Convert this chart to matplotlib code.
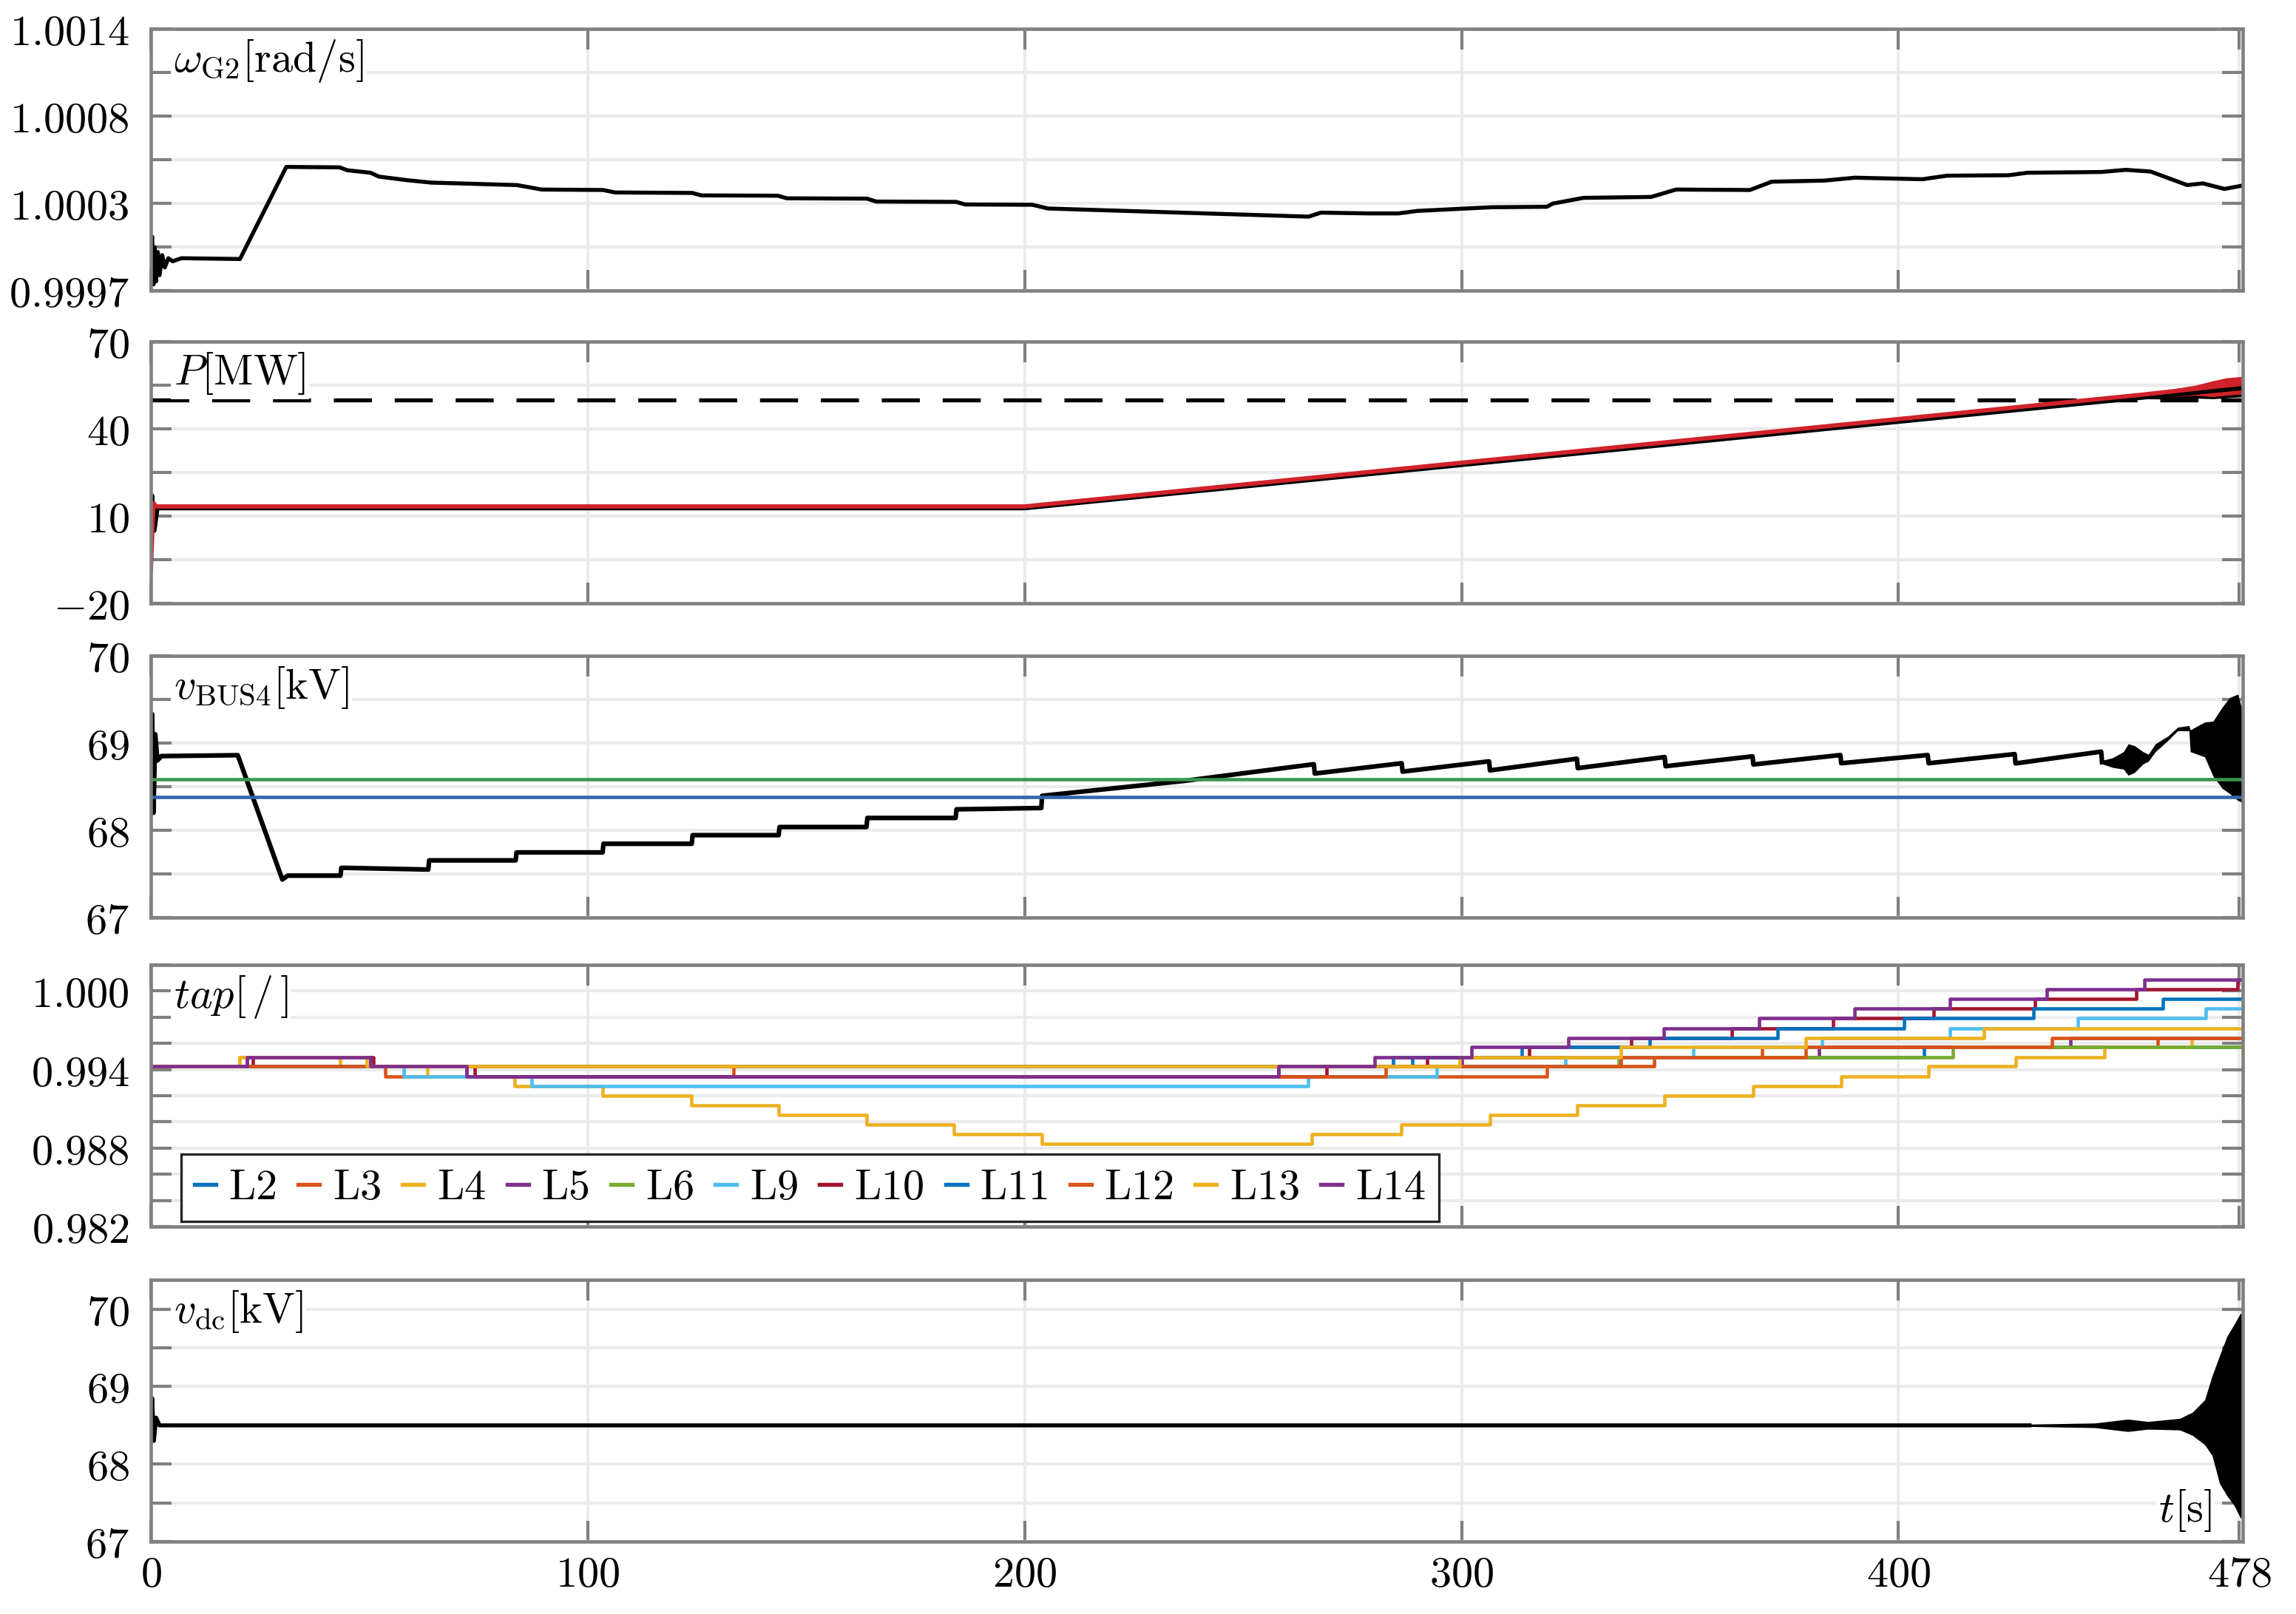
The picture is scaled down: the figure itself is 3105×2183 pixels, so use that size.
import matplotlib
matplotlib.use('Agg')
import matplotlib.pyplot as plt
from matplotlib.lines import Line2D

plt.rcParams['mathtext.fontset'] = 'cm'
plt.rcParams['font.family'] = ['DejaVu Serif']
plt.rcParams['axes.unicode_minus'] = True

# ---------------- data ----------------
XMAX = 478.8
x_ticks = [0, 100, 200, 300, 400, 478]
x_ticklabels = ['0', '100', '200', '300', '400', '478']

# panel 1: generator speed
w_t = [0, 0.3, 0.6, 0.9, 1.2, 1.6, 2.0, 2.6, 3.2, 4.0, 5.0, 7.0, 20.4, 31.0, 43.2, 45.0,
       50.3, 52.2, 58.6, 64.2, 83.8, 89.5, 103.5, 106.3, 123.9, 126.0, 143.5, 145.6,
       163.9, 166.0, 184.3, 186.4, 201.8, 205.3, 265.0, 267.8, 278.8, 285.6, 289.8,
       306.8, 319.5, 320.9, 327.9, 343.4, 349.1, 366.0, 371.0, 383.0, 390.0, 405.5,
       411.1, 425.2, 429.5, 446.4, 452.0, 457.7, 466.1, 469.7, 474.6, 478.8]
w_val = [1.00000, 1.00005, 0.99974, 0.99998, 0.99976, 0.99995, 0.99980, 0.99993, 0.99985,
         0.99991, 0.99989, 0.99991, 0.999905, 1.000503, 1.000500, 1.000481, 1.000465,
         1.000440, 1.000417, 1.000401, 1.000385, 1.000356, 1.000353, 1.000337, 1.000334,
         1.000318, 1.000316, 1.000299, 1.000297, 1.000278, 1.000276, 1.000259, 1.000257,
         1.000233, 1.000180, 1.000206, 1.000201, 1.000201, 1.000217, 1.000241, 1.000244,
         1.000265, 1.000302, 1.000308, 1.000356, 1.000353, 1.000407, 1.000414, 1.000433,
         1.000423, 1.000446, 1.000449, 1.000465, 1.000470, 1.000484, 1.000473, 1.000385,
         1.000396, 1.000360, 1.000382]

# panel 2: power
P_ref = 50.0
Pb_t = [0, 0.3, 0.8, 1.5, 200, 455, 478.8]
Pb = [12.0, 17.0, 5.0, 12.7, 12.7, 50.6, 54.0]
Pr_t = [0, 0.6, 1.2, 200, 455, 478.8]
Pr = [-8.5, 14.5, 13.3, 13.3, 51.6, 55.5]
Pr_env_t = [455, 462, 468, 472, 475, 478.8]
Pr_lo = [51.0, 51.0, 51.5, 51.0, 51.5, 52.0]
Pr_hi = [52.2, 53.5, 55.0, 56.5, 57.5, 58.0]
Pb_env_t = [455, 462, 468, 472, 475, 478.8]
Pb_lo = [50.3, 50.2, 50.5, 50.3, 50.6, 51.0]
Pb_hi = [51.0, 52.0, 53.0, 54.0, 54.5, 55.0]

# panel 3: bus voltage
vb_limit_hi = 68.585
vb_limit_lo = 68.378
vb_t = [0, 0.3, 0.6, 1.0, 1.5, 2.4, 19.9, 30.1, 31.3, 43.4, 43.6, 63.5, 63.7, 83.5, 83.7,
        103.4, 103.6, 123.8, 124.0, 143.7, 143.9, 163.8, 164.0, 184.2, 184.4, 203.8, 204.0,
        236.4, 266.2, 266.4, 286.3, 286.5, 306.3, 306.5, 326.4, 326.6, 346.5, 346.7, 366.6,
        366.8, 386.7, 386.9, 406.7, 406.9, 426.6, 426.8, 446.4, 446.6]
vb = [68.5, 69.33, 68.2, 69.1, 68.8, 68.85, 68.86, 67.435, 67.48, 67.48, 67.57, 67.55,
      67.655, 67.655, 67.746, 67.746, 67.845, 67.845, 67.944, 67.944, 68.037, 68.037,
      68.141, 68.141, 68.24, 68.255, 68.395, 68.565, 68.757, 68.65, 68.768, 68.672, 68.79,
      68.686, 68.82, 68.712, 68.839, 68.734, 68.847, 68.754, 68.862, 68.768, 68.862,
      68.768, 68.873, 68.766, 68.901, 68.78]
vb_env_t = [446.6, 449.0, 451.5, 452.6, 454.0, 456.0, 457.2, 458.8, 461.7, 463.9, 466.5,
            466.8, 470.1, 472.0, 474.1, 475.8, 477.7, 478.8]
vb_lo = [68.76, 68.72, 68.70, 68.63, 68.66, 68.76, 68.79, 68.90, 69.03, 69.14, 69.14,
         68.90, 68.84, 68.62, 68.48, 68.42, 68.34, 68.32]
vb_hi = [68.80, 68.83, 68.90, 68.99, 68.97, 68.90, 68.87, 68.99, 69.08, 69.18, 69.20,
         69.15, 69.24, 69.25, 69.41, 69.52, 69.56, 69.35]

# panel 4: transformer taps (step values)
tap_names = ['L2', 'L3', 'L4', 'L5', 'L6', 'L9', 'L10', 'L11', 'L12', 'L13', 'L14']
tap_colors = ['#0072BD', '#D95319', '#EDB120', '#7E2F8E', '#77AC30', '#4DBEEE',
              '#A2142F', '#0072BD', '#D95319', '#EDB120', '#7E2F8E']
tap_t = {
    'L2': [0, 288.8, 405.9, 478.8],
    'L3': [0, 53.7, 319.5, 344.1, 368.8, 459.4, 478.8],
    'L4': [0, 20.3, 43.4, 63.3, 83.3, 103.4, 123.7, 143.7, 163.8, 183.8, 203.9, 265.8,
           286.2, 306.5, 326.5, 346.5, 366.7, 386.9, 406.9, 426.9, 447.1, 467.1, 478.8],
    'L5': [0, 22.0, 50.3, 72.3, 258.1, 300.0, 381.9, 439.4, 478.8],
    'L6': [0, 336.0, 412.5, 478.8],
    'L9': [0, 57.9, 87.2, 264.9, 294.3, 323.7, 353.0, 382.5, 411.8, 441.0, 470.4, 478.8],
    'L10': [0, 23.3, 51.0, 74.1, 269.1, 292.1, 315.5, 338.8, 361.8, 385.0, 408.0, 431.3,
            454.4, 477.7, 478.8],
    'L11': [0, 284.4, 313.8, 343.0, 372.4, 401.3, 430.9, 460.5, 478.8],
    'L12': [0, 133.4, 282.7, 336.4, 378.7, 435.1, 478.8],
    'L13': [0, 20.3, 49.4, 299.5, 336.4, 378.7, 419.6, 478.8],
    'L14': [0, 22.0, 50.3, 72.3, 258.1, 280.1, 302.3, 324.4, 346.3, 368.1, 390.0, 411.8,
            434.0, 456.3, 478.8],
}
tap_v = {
    'L2': [0.99423, 0.99496, 0.99570, 0.99570],
    'L3': [0.99423, 0.99347, 0.99423, 0.99496, 0.99570, 0.99643, 0.99643],
    'L4': [0.99423, 0.99496, 0.99423, 0.99347, 0.99274, 0.99198, 0.99127, 0.99054, 0.98978,
           0.98905, 0.98831, 0.98905, 0.98978, 0.99054, 0.99127, 0.99198, 0.99274, 0.99347,
           0.99423, 0.99496, 0.99570, 0.99643, 0.99643],
    'L5': [0.99423, 0.99496, 0.99423, 0.99347, 0.99423, 0.99496, 0.99570, 0.99643, 0.99643],
    'L6': [0.99423, 0.99496, 0.99570, 0.99570],
    'L9': [0.99423, 0.99347, 0.99274, 0.99347, 0.99423, 0.99496, 0.99570, 0.99643, 0.99716,
           0.99792, 0.99865, 0.99865],
    'L10': [0.99423, 0.99496, 0.99423, 0.99347, 0.99423, 0.99496, 0.99570, 0.99643, 0.99716,
            0.99792, 0.99865, 0.99939, 1.00012, 1.00086, 1.00086],
    'L11': [0.99423, 0.99496, 0.99570, 0.99643, 0.99716, 0.99792, 0.99865, 0.99939, 0.99939],
    'L12': [0.99423, 0.99347, 0.99423, 0.99496, 0.99570, 0.99643, 0.99643],
    'L13': [0.99423, 0.99496, 0.99423, 0.99496, 0.99570, 0.99643, 0.99716, 0.99716],
    'L14': [0.99423, 0.99496, 0.99423, 0.99347, 0.99423, 0.99496, 0.99570, 0.99643, 0.99716,
            0.99792, 0.99865, 0.99939, 1.00012, 1.00086, 1.00086],
}

# panel 5: dc voltage
vd_t = [0, 0.3, 0.7, 1.2, 2.0, 430]
vd = [68.5, 68.85, 68.3, 68.6, 68.5, 68.5]
vd_env_t = [430, 445, 452.5, 457.1, 464.4, 467.3, 470.1, 471.8, 473.5, 475.2, 476.9, 478.3, 478.8]
vd_lo = [68.485, 68.47, 68.42, 68.45, 68.44, 68.37, 68.25, 68.11, 67.75, 67.59, 67.46, 67.30, 67.35]
vd_hi = [68.515, 68.53, 68.58, 68.55, 68.59, 68.67, 68.83, 69.14, 69.40, 69.65, 69.81, 69.95, 69.90]

# ---------------- figure ----------------
fig = plt.figure(figsize=(10.35, 7.2767), dpi=300)
GRAY = '#808080'
GRID = '#EBEBEB'
FS = 14

L, W, H = 0.0657, 0.9111, 0.1622
bottoms = [0.81997, 0.62620, 0.43152, 0.24003, 0.04489]
axes = [fig.add_axes([L, b, W, H]) for b in bottoms]


def style(ax, ylim, yticks, ylabels, show_x):
    ax.set_xlim(0, XMAX)
    ax.set_ylim(*ylim)
    ax.set_xticks(x_ticks)
    ax.set_yticks(yticks)
    ax.set_yticklabels(['$%s$' % s if s else '' for s in ylabels])
    if show_x:
        ax.set_xticklabels(['$%s$' % s for s in x_ticklabels])
    else:
        ax.set_xticklabels([])
    ax.tick_params(direction='in', length=6.7, width=1.0, color=GRAY, top=True,
                   right=True, labelsize=FS, labelcolor='black')
    ax.tick_params(axis='y', pad=7)
    ax.tick_params(axis='x', pad=4)
    ax.grid(True, color=GRID, lw=1.0)
    ax.set_axisbelow(True)
    for s in ax.spines.values():
        s.set_color(GRAY)
        s.set_linewidth(1.1)


def label(ax, s, y=0.965):
    ax.text(0.011, y, s, transform=ax.transAxes, fontsize=FS, va='top', ha='left',
            bbox=dict(facecolor='white', edgecolor='none', pad=1.0), zorder=5)


# panel 1
ax = axes[0]
ax.plot(w_t, w_val, color='black', lw=1.3)
w_ticks = [0.9997 + i * 0.0017 / 6 for i in range(7)]
style(ax, (0.9997, 1.0014), w_ticks,
      ['0.9997', '', '1.0003', '', '1.0008', '', '1.0014'], False)
label(ax, r'$\omega_{\mathrm{G2}}[\mathrm{rad/s}]$')

# panel 2
ax = axes[1]
ax.axhline(P_ref, color='black', lw=1.3, dashes=(9.5, 5.7))
ax.plot(Pb_t, Pb, color='black', lw=1.4)
ax.fill_between(Pb_env_t, Pb_lo, Pb_hi, color='black', lw=0)
ax.plot(Pr_t, Pr, color='#D0222A', lw=1.4)
ax.fill_between(Pr_env_t, Pr_lo, Pr_hi, color='#D0222A', lw=0)
style(ax, (-20, 70), [-20, -5, 10, 25, 40, 55, 70],
      ['-20', '', '10', '', '40', '', '70'], False)
label(ax, r'$P[\mathrm{MW}]$')

# panel 3
ax = axes[2]
ax.plot(vb_t, vb, color='black', lw=1.5)
ax.fill_between(vb_env_t, vb_lo, vb_hi, color='black', lw=0)
ax.axhline(vb_limit_hi, color='#3E9651', lw=1.1)
ax.axhline(vb_limit_lo, color='#3466AB', lw=1.1)
style(ax, (67, 70), [67, 67.5, 68, 68.5, 69, 69.5, 70],
      ['67', '', '68', '', '69', '', '70'], False)
label(ax, r'$v_{\mathrm{BUS4}}[\mathrm{kV}]$')

# panel 4
ax = axes[3]
handles = []
for name, c in zip(tap_names, tap_colors):
    ax.step(tap_t[name], tap_v[name], where='post', color=c, lw=1.1)
    handles.append(Line2D([], [], color=c, lw=1.3))
tap_ticks = [0.982 + 0.002 * i for i in range(11)]
tap_labels = ['0.982', '', '', '0.988', '', '', '0.994', '', '', '1.000', '']
style(ax, (0.982, 1.002), tap_ticks, tap_labels, False)
label(ax, r'$tap[\,/\,]$')
leg = ax.legend(handles, [r'$\mathrm{%s}$' % n for n in tap_names], ncol=11,
                loc='lower left', bbox_to_anchor=(0.0145, 0.02), borderaxespad=0,
                frameon=True, fancybox=False, edgecolor='#262626', framealpha=1,
                fontsize=FS, handlelength=0.5, handletextpad=0.3, columnspacing=0.5,
                borderpad=0.3)
leg.get_frame().set_linewidth(0.8)

# panel 5
ax = axes[4]
ax.plot(vd_t, vd, color='black', lw=1.3)
ax.fill_between(vd_env_t, vd_lo, vd_hi, color='black', lw=0)
style(ax, (67, 70.38), [67, 67.5, 68, 68.5, 69, 69.5, 70],
      ['67', '', '68', '', '69', '', '70'], True)
label(ax, r'$v_{\mathrm{dc}}[\mathrm{kV}]$')
ax.text(0.985, 0.03, r'$t[\mathrm{s}]$', transform=ax.transAxes, fontsize=FS,
        va='bottom', ha='right', bbox=dict(facecolor='white', edgecolor='none', pad=1.0),
        zorder=5)

fig.savefig('out.png', dpi=300)
